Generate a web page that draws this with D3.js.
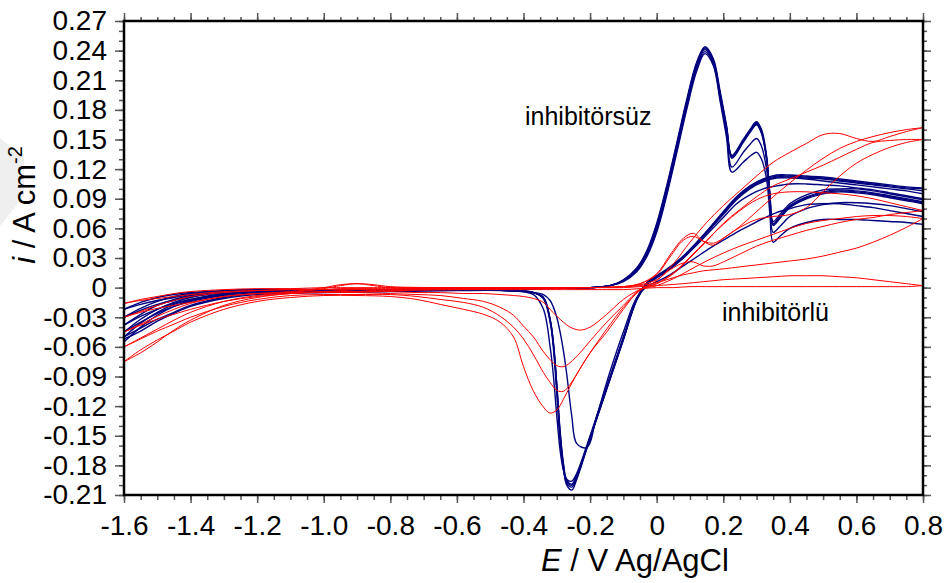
<!DOCTYPE html>
<html>
<head>
<meta charset="utf-8">
<script src="https://cdn.jsdelivr.net/npm/d3@7"></script>
<style>
  body { margin: 0; background: #fff; }
  text { font-family: "Liberation Sans", Arial, sans-serif; fill: #000; }
</style>
</head>
<body>
<svg id="chart" width="947" height="583"></svg>
<script>
// tick labels
const xTicks = [-1.6, -1.4, -1.2, -1.0, -0.8, -0.6, -0.4, -0.2, 0, 0.2, 0.4, 0.6, 0.8];
const xTickLabels = ['-1.6', '-1.4', '-1.2', '-1.0', '-0.8', '-0.6', '-0.4', '-0.2', '0', '0.2', '0.4', '0.6', '0.8'];
const yTicks = [-0.21, -0.18, -0.15, -0.12, -0.09, -0.06, -0.03, 0, 0.03, 0.06, 0.09, 0.12, 0.15, 0.18, 0.21, 0.24, 0.27];
const yTickLabels = ['-0.21', '-0.18', '-0.15', '-0.12', '-0.09', '-0.06', '-0.03', '0', '0.03', '0.06', '0.09', '0.12', '0.15', '0.18', '0.21', '0.24', '0.27'];

// potentials (V) of the read points, blue = inhibitörsüz
const bFwdE = [-1.6, -1.55, -1.5, -1.45, -1.4, -1.3, -1.2, -1.0, -0.8, -0.6, -0.4, -0.2, -0.14, -0.1, -0.06, -0.03, 0, 0.03, 0.06, 0.09, 0.12, 0.145, 0.17, 0.19, 0.21, 0.226, 0.26, 0.28, 0.3, 0.315, 0.33, 0.34, 0.35, 0.37, 0.4, 0.45, 0.5, 0.55, 0.6, 0.65, 0.7, 0.75, 0.8];
const bRevE = [0.8, 0.75, 0.7, 0.65, 0.6, 0.55, 0.5, 0.45, 0.4, 0.36, 0.32, 0.28, 0.24, 0.2, 0.16, 0.12, 0.08, 0.04, 0, -0.03, -0.06, -0.1, -0.14, -0.18, -0.21, -0.24, -0.255, -0.27, -0.28, -0.29, -0.3, -0.31, -0.32, -0.34, -0.37, -0.45, -0.6, -0.8, -1.0, -1.2, -1.3, -1.4, -1.45, -1.5, -1.55, -1.6];

// current density (A cm-2), anodic sweep then cathodic sweep of each cycle
const b1f = [-0.055, -0.04, -0.028, -0.019, -0.013, -0.007, -0.004, -0.003, -0.003, -0.002, -0.001, 0, 0.002, 0.006, 0.016, 0.031, 0.056, 0.093, 0.136, 0.18, 0.219, 0.237, 0.225, 0.19, 0.152, 0.117, 0.127, 0.133, 0.137, 0.13, 0.11, 0.075, 0.046, 0.052, 0.06, 0.066, 0.069, 0.069, 0.069, 0.068, 0.067, 0.066, 0.064];
const b1r = [0.072, 0.075, 0.078, 0.081, 0.083, 0.085, 0.085, 0.084, 0.08, 0.076, 0.07, 0.063, 0.056, 0.048, 0.04, 0.031, 0.022, 0.013, 0.006, 0.001, -0.01, -0.045, -0.085, -0.13, -0.162, -0.158, -0.13, -0.088, -0.064, -0.045, -0.03, -0.02, -0.013, -0.007, -0.005, -0.003, -0.003, -0.004, -0.005, -0.007, -0.011, -0.019, -0.026, -0.034, -0.044, -0.052];
const b2f = [-0.05, -0.036, -0.025, -0.017, -0.012, -0.006, -0.004, -0.003, -0.003, -0.002, -0.001, 0, 0.002, 0.007, 0.017, 0.033, 0.058, 0.096, 0.139, 0.183, 0.222, 0.239, 0.227, 0.193, 0.156, 0.122, 0.137, 0.145, 0.151, 0.143, 0.12, 0.085, 0.056, 0.062, 0.072, 0.08, 0.084, 0.086, 0.086, 0.085, 0.083, 0.08, 0.077];
const b2r = [0.09, 0.093, 0.096, 0.099, 0.101, 0.103, 0.104, 0.105, 0.105, 0.103, 0.1, 0.094, 0.085, 0.071, 0.057, 0.043, 0.03, 0.019, 0.01, 0.003, -0.012, -0.05, -0.09, -0.13, -0.16, -0.188, -0.196, -0.194, -0.185, -0.165, -0.13, -0.09, -0.06, -0.022, -0.007, -0.003, -0.002, -0.003, -0.004, -0.006, -0.01, -0.018, -0.025, -0.032, -0.041, -0.05];
const b3f = [-0.045, -0.032, -0.022, -0.015, -0.01, -0.005, -0.003, -0.003, -0.003, -0.002, -0.001, 0, 0.002, 0.007, 0.018, 0.034, 0.06, 0.098, 0.141, 0.185, 0.224, 0.241, 0.228, 0.196, 0.16, 0.131, 0.147, 0.157, 0.165, 0.156, 0.13, 0.092, 0.063, 0.07, 0.081, 0.09, 0.095, 0.097, 0.096, 0.094, 0.091, 0.088, 0.085];
const b3r = [0.098, 0.1, 0.102, 0.104, 0.106, 0.108, 0.11, 0.111, 0.112, 0.112, 0.108, 0.101, 0.09, 0.075, 0.06, 0.045, 0.031, 0.02, 0.011, 0.004, -0.012, -0.052, -0.092, -0.132, -0.162, -0.19, -0.199, -0.195, -0.178, -0.145, -0.098, -0.056, -0.032, -0.01, -0.005, -0.003, -0.002, -0.003, -0.004, -0.005, -0.008, -0.014, -0.019, -0.026, -0.035, -0.045];
const b4f = [-0.038, -0.027, -0.018, -0.012, -0.008, -0.004, -0.003, -0.003, -0.002, -0.002, -0.001, 0, 0.002, 0.007, 0.019, 0.036, 0.063, 0.101, 0.144, 0.188, 0.227, 0.243, 0.23, 0.198, 0.162, 0.133, 0.149, 0.159, 0.167, 0.158, 0.132, 0.094, 0.065, 0.072, 0.083, 0.092, 0.097, 0.099, 0.098, 0.096, 0.093, 0.09, 0.087];
const b4r = [0.101, 0.102, 0.104, 0.106, 0.108, 0.11, 0.112, 0.113, 0.114, 0.114, 0.11, 0.103, 0.092, 0.077, 0.061, 0.046, 0.032, 0.021, 0.012, 0.005, -0.011, -0.051, -0.091, -0.131, -0.163, -0.194, -0.205, -0.2, -0.182, -0.15, -0.1, -0.058, -0.033, -0.011, -0.005, -0.003, -0.002, -0.003, -0.003, -0.004, -0.007, -0.012, -0.016, -0.022, -0.029, -0.038];
const b5f = [-0.03, -0.021, -0.014, -0.009, -0.006, -0.003, -0.002, -0.002, -0.002, -0.001, -0.001, 0, 0.002, 0.008, 0.02, 0.037, 0.065, 0.103, 0.146, 0.19, 0.228, 0.244, 0.232, 0.2, 0.164, 0.134, 0.15, 0.16, 0.168, 0.16, 0.134, 0.096, 0.067, 0.074, 0.085, 0.094, 0.099, 0.1, 0.1, 0.098, 0.095, 0.092, 0.089];
const b5r = [0.095, 0.098, 0.1, 0.102, 0.104, 0.106, 0.108, 0.11, 0.111, 0.111, 0.107, 0.1, 0.089, 0.074, 0.059, 0.044, 0.03, 0.019, 0.01, 0.003, -0.013, -0.053, -0.093, -0.133, -0.163, -0.192, -0.202, -0.198, -0.184, -0.155, -0.108, -0.062, -0.035, -0.011, -0.005, -0.003, -0.002, -0.002, -0.003, -0.003, -0.005, -0.009, -0.013, -0.017, -0.023, -0.03];
const b6f = [-0.022, -0.015, -0.01, -0.007, -0.005, -0.003, -0.002, -0.002, -0.002, -0.001, -0.001, 0, 0.002, 0.007, 0.018, 0.035, 0.062, 0.1, 0.143, 0.187, 0.226, 0.242, 0.229, 0.197, 0.161, 0.132, 0.148, 0.158, 0.166, 0.157, 0.131, 0.093, 0.064, 0.071, 0.082, 0.091, 0.096, 0.098, 0.097, 0.095, 0.092, 0.089, 0.086];
const b6r = [0.1, 0.101, 0.103, 0.105, 0.107, 0.109, 0.111, 0.112, 0.113, 0.113, 0.109, 0.102, 0.091, 0.076, 0.06, 0.045, 0.031, 0.02, 0.011, 0.004, -0.012, -0.052, -0.092, -0.132, -0.162, -0.191, -0.2, -0.197, -0.18, -0.148, -0.1, -0.058, -0.033, -0.01, -0.005, -0.003, -0.002, -0.002, -0.002, -0.003, -0.004, -0.007, -0.01, -0.013, -0.017, -0.022];

// red = inhibitörlü
const rFwdE = [-1.6, -1.55, -1.5, -1.45, -1.4, -1.3, -1.2, -1.1, -1.0, -0.95, -0.9, -0.85, -0.8, -0.6, -0.4, -0.2, -0.1, -0.05, 0, 0.04, 0.08, 0.11, 0.14, 0.17, 0.2, 0.25, 0.3, 0.35, 0.4, 0.45, 0.5, 0.55, 0.6, 0.65, 0.7, 0.75, 0.8];
const rRevE = [0.8, 0.75, 0.7, 0.65, 0.6, 0.55, 0.5, 0.45, 0.4, 0.35, 0.3, 0.25, 0.2, 0.15, 0.1, 0.05, 0, -0.05, -0.1, -0.15, -0.2, -0.23, -0.26, -0.28, -0.3, -0.32, -0.34, -0.37, -0.4, -0.43, -0.47, -0.52, -0.58, -0.65, -0.72, -0.8, -0.9, -1.0, -1.1, -1.2, -1.3, -1.4, -1.45, -1.5, -1.55, -1.6];

const r1f = [-0.075, -0.066, -0.055, -0.043, -0.033, -0.018, -0.01, -0.006, -0.004, -0.003, -0.002, -0.003, -0.003, -0.002, -0.001, 0, 0.001, 0.004, 0.014, 0.033, 0.05, 0.055, 0.047, 0.043, 0.05, 0.061, 0.069, 0.072, 0.074, 0.081, 0.097, 0.113, 0.126, 0.135, 0.142, 0.147, 0.15];
const r1r = [0.15, 0.15, 0.149, 0.147, 0.14, 0.132, 0.124, 0.117, 0.11, 0.103, 0.092, 0.079, 0.065, 0.047, 0.03, 0.014, 0.004, -0.002, -0.022, -0.045, -0.066, -0.082, -0.1, -0.113, -0.124, -0.127, -0.121, -0.105, -0.08, -0.05, -0.035, -0.027, -0.022, -0.017, -0.012, -0.009, -0.008, -0.008, -0.01, -0.014, -0.022, -0.035, -0.044, -0.053, -0.063, -0.075];
const r2f = [-0.06, -0.051, -0.042, -0.033, -0.025, -0.014, -0.008, -0.005, -0.001, 0.002, 0.004, 0.002, 0, -0.001, -0.001, 0, 0.001, 0.004, 0.013, 0.031, 0.048, 0.052, 0.047, 0.045, 0.05, 0.062, 0.077, 0.092, 0.106, 0.119, 0.131, 0.141, 0.148, 0.153, 0.157, 0.16, 0.162];
const r2r = [0.162, 0.158, 0.153, 0.148, 0.151, 0.156, 0.155, 0.146, 0.137, 0.127, 0.113, 0.098, 0.083, 0.066, 0.046, 0.024, 0.007, -0.003, -0.02, -0.042, -0.066, -0.082, -0.098, -0.105, -0.104, -0.096, -0.086, -0.068, -0.052, -0.04, -0.029, -0.02, -0.015, -0.012, -0.009, -0.007, -0.007, -0.007, -0.008, -0.012, -0.019, -0.03, -0.037, -0.044, -0.052, -0.06];
const r3f = [-0.045, -0.037, -0.029, -0.022, -0.016, -0.009, -0.006, -0.004, 0, 0.003, 0.004, 0.003, 0.001, 0, 0, 0, 0.001, 0.003, 0.008, 0.018, 0.025, 0.026, 0.022, 0.022, 0.026, 0.034, 0.042, 0.048, 0.053, 0.058, 0.062, 0.066, 0.069, 0.071, 0.074, 0.076, 0.078];
const r3r = [0.078, 0.082, 0.086, 0.09, 0.093, 0.095, 0.096, 0.097, 0.097, 0.095, 0.089, 0.078, 0.064, 0.048, 0.031, 0.015, 0.004, -0.002, -0.018, -0.035, -0.054, -0.066, -0.076, -0.08, -0.079, -0.073, -0.065, -0.05, -0.039, -0.028, -0.02, -0.014, -0.011, -0.008, -0.007, -0.006, -0.005, -0.005, -0.006, -0.009, -0.014, -0.022, -0.027, -0.032, -0.038, -0.045];
const r4f = [-0.03, -0.024, -0.018, -0.013, -0.009, -0.005, -0.003, -0.002, -0.002, -0.001, -0.001, -0.001, -0.001, -0.001, 0, 0, 0.001, 0.002, 0.005, 0.009, 0.013, 0.015, 0.017, 0.018, 0.019, 0.021, 0.023, 0.025, 0.027, 0.029, 0.032, 0.036, 0.04, 0.046, 0.053, 0.061, 0.07];
const r4r = [0.07, 0.072, 0.073, 0.073, 0.072, 0.07, 0.068, 0.065, 0.06, 0.054, 0.048, 0.042, 0.035, 0.027, 0.018, 0.009, 0.002, -0.002, -0.012, -0.027, -0.04, -0.043, -0.04, -0.035, -0.029, -0.022, -0.015, -0.011, -0.009, -0.008, -0.007, -0.006, -0.006, -0.005, -0.005, -0.004, -0.004, -0.004, -0.005, -0.006, -0.009, -0.015, -0.018, -0.021, -0.025, -0.03];
const r5f = [-0.016, -0.012, -0.009, -0.006, -0.004, -0.002, -0.001, -0.001, 0, 0, 0, 0, 0, 0, 0, 0, 0, 0.001, 0.002, 0.003, 0.004, 0.005, 0.006, 0.007, 0.008, 0.009, 0.01, 0.011, 0.012, 0.012, 0.012, 0.011, 0.01, 0.008, 0.006, 0.004, 0.002];
const r5r = [0.002, 0.001, 0.001, 0.001, 0.001, 0.001, 0.001, 0.001, 0.001, 0.001, 0.001, 0.001, 0.001, 0.001, 0.001, 0, 0, -0.001, -0.002, -0.002, -0.002, -0.002, -0.002, -0.002, -0.002, -0.002, -0.002, -0.002, -0.002, -0.002, -0.002, -0.002, -0.002, -0.002, -0.002, -0.002, -0.002, -0.002, -0.002, -0.003, -0.004, -0.007, -0.009, -0.011, -0.013, -0.016];

const blueCycles = [[b1f, b1r], [b2f, b2r], [b3f, b3r], [b4f, b4r], [b5f, b5r], [b6f, b6r]];
const redCycles = [[r1f, r1r], [r2f, r2r], [r3f, r3r], [r4f, r4r], [r5f, r5r]];

const width = 947;
const height = 583;
const plot = { left: 124, right: 923, top: 21, bottom: 495 };

const x = d3.scaleLinear().domain([-1.6, 0.8]).range([plot.left, plot.right]);
const y = d3.scaleLinear().domain([-0.21, 0.27]).range([plot.bottom, plot.top]);

const svg = d3.select('#chart');
svg.append('rect').attr('width', width).attr('height', height).attr('fill', '#fff');

// faint watermark corner at the left edge
svg.append('path')
  .attr('d', 'M0,138L24,158L24,196L0,226Z')
  .attr('fill', '#efefef');

svg.append('defs').append('clipPath').attr('id', 'clip')
  .append('rect')
  .attr('x', plot.left).attr('y', plot.top)
  .attr('width', plot.right - plot.left).attr('height', plot.bottom - plot.top);

const line = d3.line()
  .x(d => x(d[0]))
  .y(d => y(d[1]))
  .curve(d3.curveCatmullRom.alpha(0.5));

const zip = (es, vs) => es.map((e, k) => [e, vs[k]]);

const curves = svg.append('g').attr('clip-path', 'url(#clip)').attr('fill', 'none');

blueCycles.forEach(([f, r]) => {
  curves.append('path').attr('d', line(zip(bFwdE, f)))
    .attr('stroke', '#00007f').attr('stroke-width', 1.4);
  curves.append('path').attr('d', line(zip(bRevE, r)))
    .attr('stroke', '#00007f').attr('stroke-width', 1.4);
});

redCycles.forEach(([f, r]) => {
  curves.append('path').attr('d', line(zip(rFwdE, f)))
    .attr('stroke', '#ff0000').attr('stroke-width', 1);
  curves.append('path').attr('d', line(zip(rRevE, r)))
    .attr('stroke', '#ff0000').attr('stroke-width', 1);
});

// axes: minor + major ticks on all four sides
const styleAxis = g => {
  g.select('.domain').remove();
  g.selectAll('.tick line').attr('stroke', '#555').attr('stroke-width', 1.5);
  g.selectAll('.tick text').style('font-size', '28px').attr('fill', '#000');
};

svg.append('g').attr('transform', `translate(0,${plot.bottom})`)
  .call(d3.axisBottom(x).tickValues(x.ticks(48)).tickSize(5).tickFormat(''))
  .call(styleAxis);
svg.append('g').attr('transform', `translate(0,${plot.bottom})`)
  .call(d3.axisBottom(x).tickValues(xTicks).tickSize(8).tickPadding(12)
    .tickFormat((d, k) => xTickLabels[k]))
  .call(styleAxis);

svg.append('g').attr('transform', `translate(0,${plot.top})`)
  .call(d3.axisTop(x).tickValues(x.ticks(48)).tickSize(4).tickFormat(''))
  .call(styleAxis);
svg.append('g').attr('transform', `translate(0,${plot.top})`)
  .call(d3.axisTop(x).tickValues(xTicks).tickSize(8).tickFormat(''))
  .call(styleAxis);

svg.append('g').attr('transform', `translate(${plot.left},0)`)
  .call(d3.axisLeft(y).tickValues(y.ticks(48)).tickSize(5).tickFormat(''))
  .call(styleAxis);
svg.append('g').attr('transform', `translate(${plot.left},0)`)
  .call(d3.axisLeft(y).tickValues(yTicks).tickSize(9).tickPadding(8)
    .tickFormat((d, k) => yTickLabels[k]))
  .call(styleAxis);

svg.append('g').attr('transform', `translate(${plot.right},0)`)
  .call(d3.axisRight(y).tickValues(y.ticks(48)).tickSize(4).tickFormat(''))
  .call(styleAxis);
svg.append('g').attr('transform', `translate(${plot.right},0)`)
  .call(d3.axisRight(y).tickValues(yTicks).tickSize(8).tickFormat(''))
  .call(styleAxis);

// frame
svg.append('rect')
  .attr('x', plot.left).attr('y', plot.top)
  .attr('width', plot.right - plot.left).attr('height', plot.bottom - plot.top)
  .attr('fill', 'none').attr('stroke', '#000').attr('stroke-width', 2.5);

// axis titles
const xTitle = svg.append('text')
  .attr('x', 541).attr('y', 571)
  .style('font-size', '31px');
xTitle.append('tspan').style('font-style', 'italic').text('E');
xTitle.append('tspan').text(' / V Ag/AgCl');

const yTitle = svg.append('text')
  .attr('transform', 'translate(35,205) rotate(-90)')
  .attr('text-anchor', 'middle')
  .style('font-size', '31px');
yTitle.append('tspan').style('font-style', 'italic').text('i');
yTitle.append('tspan').text(' / A cm');
yTitle.append('tspan').attr('dy', -13).style('font-size', '20px').text('-2');

// labels
svg.append('text').attr('x', 525).attr('y', 125).style('font-size', '25px').text('inhibitörsüz');
svg.append('text').attr('x', 722).attr('y', 321).style('font-size', '25px').text('inhibitörlü');
</script>
</body>
</html>
